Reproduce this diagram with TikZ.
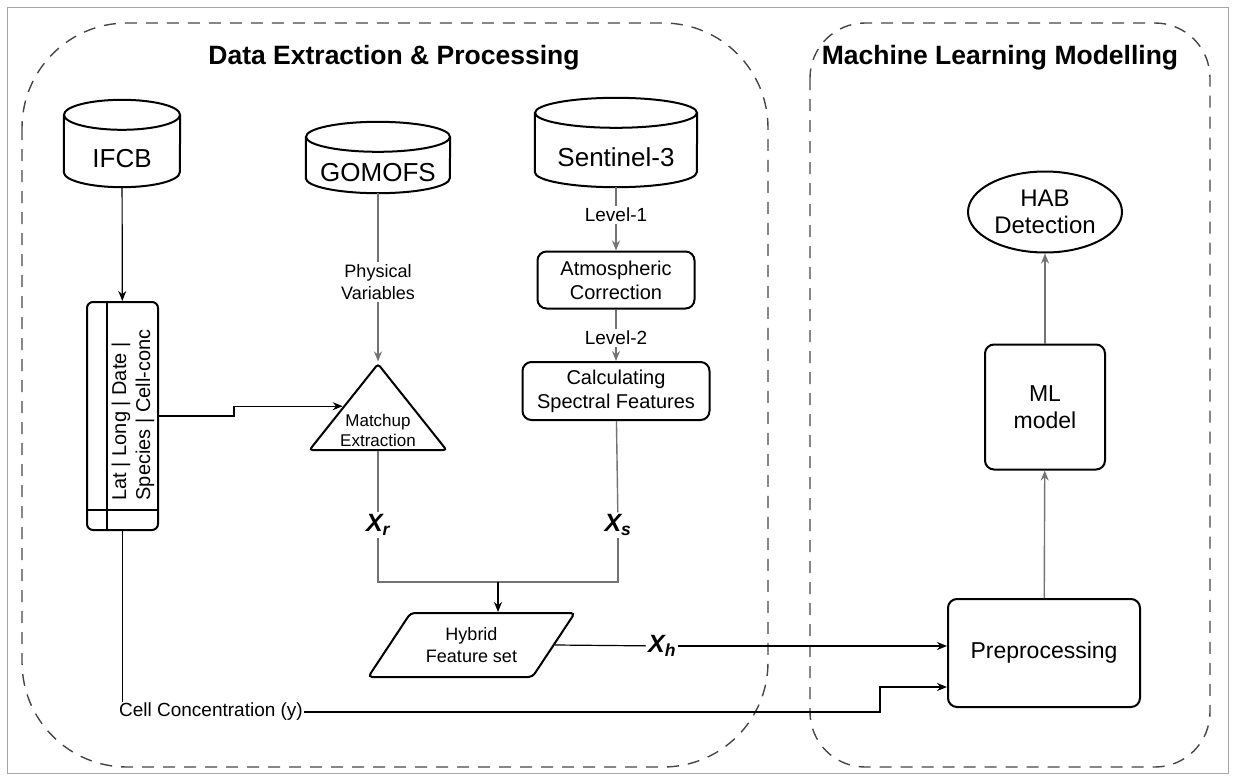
\documentclass[tikz,border=0pt]{standalone}
\usepackage{fontspec}
\setmainfont{Liberation Sans}
\usepackage{tikz}
\usetikzlibrary{arrows.meta,positioning,calc,shapes.geometric}
\definecolor{linkgrey}{RGB}{115,115,115}
\definecolor{framegrey}{RGB}{70,70,70}
\newcommand{\lowtext}[1]{\raisebox{-24pt}[0pt][0pt]{#1}}

\begin{document}
\begin{tikzpicture}[
    x=1pt, y=-1pt,
    database/.style={rectangle, inner sep=0pt, font=\fontsize{26}{28}\selectfont},
    db outline/.style={line width=2pt, draw=black},
    process/.style={rectangle, rounded corners=9pt, draw=black, line width=2pt, fill=white, align=center, font=\fontsize{20}{24}\selectfont},
    label text/.style={fill=white, inner sep=2pt, align=center, font=\fontsize{19}{22}\selectfont},
    feature/.style={fill=white, inner sep=2pt, font=\fontsize{25}{28}\selectfont\bfseries\itshape},
    link/.style={line width=1.2pt, draw=black},
    grey link/.style={line width=1.4pt, draw=linkgrey},
    tip/.style={-{Stealth[length=10pt, width=8pt]}},
    group/.style={draw=framegrey, line width=1.4pt, dash pattern=on 12pt off 9pt},
    heading/.style={font=\fontsize{26.5}{28}\selectfont\bfseries}
]
    \useasboundingbox (0,0) rectangle (1234,779);
    \draw[gray!70, line width=1pt] (7,7) rectangle (1228,773);

    % Groups
    \draw[group, rounded corners=105pt] (22,23) rectangle (768,767);
    \draw[group, rounded corners=55pt] (810,23) rectangle (1210,767);
    \node[heading] (dataepTitle) at (394,58) {Data Extraction \& Processing};
    \node[heading] (mlTitle) at (1000,58) {Machine Learning Modelling};

    % Data sources
    \node[database, minimum width=116pt, minimum height=87pt] (ifcb) at (122,143.5) {\lowtext{IFCB}};
    \node[database, minimum width=144pt, minimum height=71pt] (gomofs) at (378,157.5) {\lowtext{GOMOFS}};
    \node[database, minimum width=162pt, minimum height=89pt] (sentinel) at (616,142.5) {\lowtext{Sentinel-3}};
    \foreach \db/\rx in {ifcb/58, gomofs/72, sentinel/81} {
        \draw[db outline] ([yshift=-15pt]\db.north west) -- ([yshift=15pt]\db.south west)
            arc[start angle=180, end angle=360, x radius=\rx pt, y radius=15pt]
            -- ([yshift=-15pt]\db.north east);
        \draw[db outline] ([yshift=-15pt]\db.north) ellipse[x radius=\rx pt, y radius=15pt];
    }

    % IFCB table
    \node[draw=black, line width=2pt, rounded corners=6pt, minimum width=71pt, minimum height=228pt] (table) at (122.5,416) {};
    \draw[line width=2pt] ([xshift=21pt]table.north west) -- ([xshift=21pt]table.south west);
    \draw[line width=2pt] ([yshift=21pt]table.south west) -- ([yshift=21pt]table.south east);
    \node[rotate=90, align=left, font=\fontsize{20}{24}\selectfont] (columns) at (133,415) {Lat | Long | Date |\\Species | Cell-conc};

    % Processing steps
    \node[isosceles triangle, shape border rotate=90, isosceles triangle stretches, draw=black, line width=2pt, rounded corners=3pt, minimum width=137pt, minimum height=86pt, inner sep=0pt, anchor=lower side] (matchup) at (378,451) {};
    \node[align=center, font=\fontsize{17}{20}\selectfont] (matchupText) at (378,430) {Matchup\\Extraction};
    \node[process, minimum width=157pt, minimum height=57pt] (atmo) at (616,280) {Atmospheric\\Correction};
    \node[process, minimum width=187pt, minimum height=58pt] (calc) at (616,391) {Calculating\\Spectral Features};
    \node[trapezium, trapezium left angle=51, trapezium right angle=129, trapezium stretches, draw=black, line width=2pt, rounded corners=4pt, minimum width=207pt, minimum height=64pt, align=center, font=\fontsize{18}{22}\selectfont] (hybrid) at (471.5,645) {Hybrid\\Feature set};

    % Modelling
    \node[process, minimum width=192pt, minimum height=108pt, font=\fontsize{23}{26}\selectfont] (prep) at (1044,653) {Preprocessing};
    \node[process, minimum width=120pt, minimum height=125pt, font=\fontsize{23}{27}\selectfont] (ml) at (1045,407) {ML\\model};
    \node[ellipse, draw=black, line width=2pt, minimum width=154pt, minimum height=81pt, align=center, font=\fontsize{24}{27}\selectfont] (hab) at (1045,212) {HAB\\Detection};

    % Labels on connectors
    \node[label text] (level1) at (616,215) {Level-1};
    \node[label text] (level2) at (616,338) {Level-2};
    \node[label text, font=\fontsize{18}{22}\selectfont] (physical) at (378,282) {Physical\\Variables};
    \node[feature] (xr) at (378,525) {X\textsubscript{r}};
    \node[feature] (xs) at (618,525) {X\textsubscript{s}};
    \node[feature] (xh) at (662,646) {X\textsubscript{h}};
    \node[label text, inner sep=1pt] (cellconc) at (211,712) {Cell Concentration (y)};
    \coordinate (join) at (498,582);
    \coordinate (cjog) at (880,687);

    % Connections
    \draw[link, tip] (ifcb) -- (table);
    \draw[link, tip] (table.east) -- ++(75,0) |- (matchup.left side);
    \draw[grey link] (gomofs) -- (physical);
    \draw[grey link, tip] (physical) -- (matchup.apex);
    \draw[grey link] (matchup.lower side) -- (xr);
    \draw[grey link] (sentinel) -- (level1);
    \draw[grey link, tip] (level1) -- (atmo);
    \draw[grey link] (atmo) -- (level2);
    \draw[grey link, tip] (level2) -- (calc);
    \draw[grey link] (calc) -- (xs);
    \draw[grey link] (xr) |- (join) -| (xs);
    \draw[link, tip] (join) -- (join |- hybrid.north);
    \draw[link] (hybrid.east) -- (xh);
    \draw[link, tip] (xh) -- (xh -| prep.west);
    \draw[link] (table.south) -- (table.south |- cellconc.north);
    \draw[link, tip] (cellconc.east) -| (cjog) -- (cjog -| prep.west);
    \draw[grey link, tip] (prep) -- (ml);
    \draw[grey link, tip] (ml) -- (hab);
\end{tikzpicture}
\end{document}
